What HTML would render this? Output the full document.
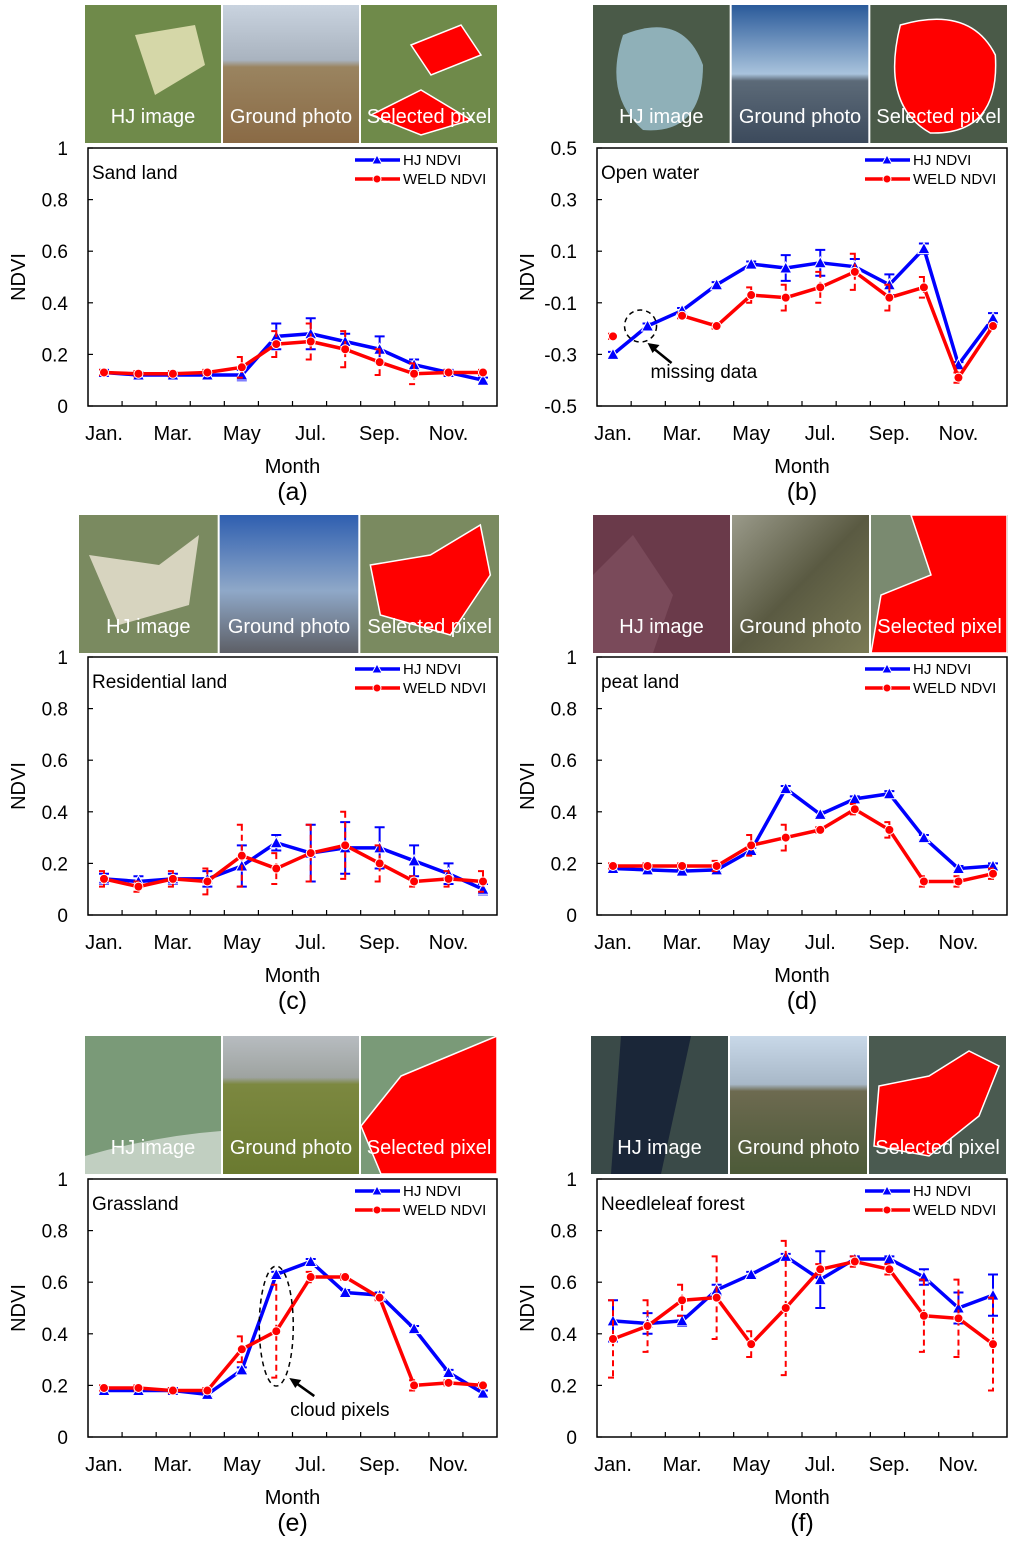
<!DOCTYPE html>
<html><head><meta charset="utf-8"><style>
html,body{margin:0;padding:0;background:#fff}
svg{display:block;font-family:"Liberation Sans",sans-serif}
.lab{font-family:"Liberation Sans",sans-serif}
</style></head><body>
<svg id="fig" width="1024" height="1545" viewBox="0 0 1024 1545" xmlns="http://www.w3.org/2000/svg">
<defs>
<linearGradient id="gSky" x1="0" y1="0" x2="0" y2="1"><stop offset="0" stop-color="#c9d3df"/><stop offset="0.4" stop-color="#a9b3bf"/><stop offset="0.45" stop-color="#9a8460"/><stop offset="1" stop-color="#8a6a45"/></linearGradient>
<linearGradient id="gSea" x1="0" y1="0" x2="0" y2="1"><stop offset="0" stop-color="#2a5a9a"/><stop offset="0.5" stop-color="#a9c3dc"/><stop offset="0.55" stop-color="#5c6a78"/><stop offset="1" stop-color="#3c4a5c"/></linearGradient>
<linearGradient id="gCity" x1="0" y1="0" x2="0" y2="1"><stop offset="0" stop-color="#2f5fb0"/><stop offset="0.55" stop-color="#8fa8c8"/><stop offset="1" stop-color="#5d5f66"/></linearGradient>
<linearGradient id="gPeat" x1="0" y1="0" x2="1" y2="1"><stop offset="0" stop-color="#9a9a8a"/><stop offset="0.5" stop-color="#5a5a42"/><stop offset="1" stop-color="#7a7a55"/></linearGradient>
<linearGradient id="gGrass" x1="0" y1="0" x2="0" y2="1"><stop offset="0" stop-color="#b7bcc0"/><stop offset="0.3" stop-color="#9ea3a0"/><stop offset="0.35" stop-color="#7c8840"/><stop offset="1" stop-color="#6a7a30"/></linearGradient>
<linearGradient id="gMount" x1="0" y1="0" x2="0" y2="1"><stop offset="0" stop-color="#c8d8e8"/><stop offset="0.35" stop-color="#a8b8c8"/><stop offset="0.4" stop-color="#6d6a50"/><stop offset="1" stop-color="#4c5a38"/></linearGradient>
</defs>
<g id="photos"></g>
<g id="charts"></g>
</svg>
<script>
// ---------- data ----------
const months = ["Jan.","Feb.","Mar.","Apr.","May","Jun.","Jul.","Aug.","Sep.","Oct.","Nov.","Dec."];
const tickMonthLabels = ["Jan.","Mar.","May","Jul.","Sep.","Nov."];
const ticks01 = [0,0.2,0.4,0.6,0.8,1];
const ticksWater = [-0.5,-0.3,-0.1,0.1,0.3,0.5];

const sandHJ   = [0.13,0.12,0.12,0.12,0.12,0.27,0.28,0.25,0.22,0.16,0.13,0.10];
const sandHJe  = [0.01,0.01,0.01,0.01,0.02,0.05,0.06,0.03,0.05,0.02,0.01,0.01];
const sandWE   = [0.13,0.125,0.125,0.13,0.15,0.24,0.25,0.22,0.17,0.125,0.13,0.13];
const sandWEe  = [0.01,0.01,0.01,0.01,0.04,0.05,0.07,0.07,0.05,0.04,0.01,0.01];

const waterHJ  = [-0.30,-0.19,-0.13,-0.03,0.05,0.035,0.055,0.04,-0.03,0.11,-0.34,-0.16];
const waterHJe = [0.01,0.01,0.01,0.01,0.01,0.05,0.05,0.03,0.04,0.02,0.01,0.02];
const waterWE  = [-0.23,null,-0.15,-0.19,-0.07,-0.08,-0.04,0.02,-0.08,-0.04,-0.39,-0.19];
const waterWEe = [0.01,0,0.01,0.01,0.03,0.05,0.06,0.07,0.05,0.04,0.02,0.01];

const resHJ    = [0.14,0.13,0.14,0.14,0.19,0.28,0.24,0.26,0.26,0.21,0.16,0.10];
const resHJe   = [0.02,0.02,0.02,0.03,0.08,0.03,0.11,0.10,0.08,0.06,0.04,0.02];
const resWE    = [0.14,0.11,0.14,0.13,0.23,0.18,0.24,0.27,0.20,0.13,0.14,0.13];
const resWEe   = [0.03,0.02,0.03,0.05,0.12,0.06,0.11,0.13,0.07,0.02,0.03,0.04];

const peatHJ   = [0.18,0.175,0.17,0.175,0.25,0.49,0.39,0.45,0.47,0.30,0.18,0.19];
const peatHJe  = [0.01,0.01,0.01,0.01,0.01,0.01,0.01,0.01,0.01,0.01,0.01,0.01];
const peatWE   = [0.19,0.19,0.19,0.19,0.27,0.30,0.33,0.41,0.33,0.13,0.13,0.16];
const peatWEe  = [0.01,0.01,0.01,0.02,0.04,0.05,0.01,0.02,0.03,0.02,0.02,0.02];

const grassHJ  = [0.18,0.18,0.18,0.165,0.26,0.63,0.68,0.56,0.55,0.42,0.25,0.17];
const grassHJe = [0.01,0.01,0.01,0.01,0.01,0.01,0.01,0.01,0.01,0.01,0.01,0.01];
const grassWE  = [0.19,0.19,0.18,0.18,0.34,0.41,0.62,0.62,0.54,0.20,0.21,0.20];
const grassWEe = [0.01,0.01,0.01,0.01,0.05,0.18,0.02,0.01,0.01,0.02,0.01,0.01];

const forHJ    = [0.45,0.44,0.45,0.57,0.63,0.70,0.61,0.69,0.69,0.62,0.50,0.55];
const forHJe   = [0.08,0.04,0.02,0.02,0.01,0.01,0.11,0.01,0.01,0.03,0.06,0.08];
const forWE    = [0.38,0.43,0.53,0.54,0.36,0.50,0.65,0.68,0.65,0.47,0.46,0.36];
const forWEe   = [0.15,0.10,0.06,0.16,0.05,0.26,0.02,0.02,0.02,0.14,0.15,0.18];

// ---------- helpers ----------
const NS = "http://www.w3.org/2000/svg";
function mk(tag, attrs, parent, text){
  const e = document.createElementNS(NS, tag);
  for (const k in attrs) e.setAttribute(k, attrs[k]);
  if (text !== undefined) e.textContent = text;
  parent.appendChild(e);
  return e;
}
const charts = document.getElementById('charts');
const photos = document.getElementById('photos');

function drawPhotos(id, x, y, w, h, kind){
  const g = mk('g', {}, photos);
  
  
  const iw = (w - 4) / 3;
  const bgs = {
    sand:["#6f8a4a","url(#gSky)","#6f8a4a"],
    water:["#4a5a48","url(#gSea)","#4a5a48"],
    res:["#7a8a60","url(#gCity)","#7a8a60"],
    peat:["#6a3a4a","url(#gPeat)","#7a8a70"],
    grass:["#7a9a78","url(#gGrass)","#7a9a78"],
    forest:["#3a4a48","url(#gMount)","#4a5a50"]
  }[kind];
  const names = ["HJ image","Ground photo","Selected pixel"];
  for (let k=0;k<3;k++){
    const ix = x + k*(iw+2);
    const r = mk('rect', {x:ix, y:y, width:iw, height:h, fill:bgs[k]}, g);
    
    
    if (k===0){
      if (kind==='sand') mk('path',{d:`M${ix+50} ${y+30} L${ix+110} ${y+20} L${ix+120} ${y+60} L${ix+70} ${y+90} Z`,fill:"#e8e4b8",opacity:0.85},g);
      if (kind==='water') mk('path',{d:`M${ix+30} ${y+30} Q${ix+90} ${y+5} ${ix+110} ${y+60} Q${ix+110} ${y+130} ${ix+50} ${y+125} Q${ix+10} ${y+90} ${ix+30} ${y+30}Z`,fill:"#8fb0b8"},g);
      if (kind==='res') mk('path',{d:`M${ix+10} ${y+40} L${ix+80} ${y+50} L${ix+120} ${y+20} L${ix+110} ${y+90} L${ix+40} ${y+110} Z`,fill:"#e8e0d0",opacity:0.85},g);
      if (kind==='peat') mk('path',{d:`M${ix} ${y+60} L${ix+40} ${y+20} L${ix+80} ${y+80} L${ix+60} ${y+138} L${ix} ${y+138}Z`,fill:"#7a4a5a"},g);
      if (kind==='grass') mk('path',{d:`M${ix} ${y+120} Q${ix+70} ${y+100} ${ix+136} ${y+95} L${ix+136} ${y+138} L${ix} ${y+138}Z`,fill:"#dfe6e0",opacity:0.7},g);
      if (kind==='forest') mk('path',{d:`M${ix+30} ${y} L${ix+100} ${y} L${ix+70} ${y+138} L${ix+20} ${y+138}Z`,fill:"#1a2638"},g);
    }
    if (k===2){
      const red = {
        sand:`M${ix+50} ${y+40} L${ix+100} ${y+20} L${ix+120} ${y+50} L${ix+70} ${y+70}Z M${ix+10} ${y+110} L${ix+60} ${y+85} L${ix+110} ${y+115} L${ix+60} ${y+130}Z`,
        water:`M${ix+30} ${y+20} Q${ix+100} ${y} ${ix+125} ${y+50} Q${ix+130} ${y+130} ${ix+60} ${y+128} Q${ix+10} ${y+100} ${ix+30} ${y+20}Z`,
        res:`M${ix+10} ${y+50} L${ix+70} ${y+40} L${ix+120} ${y+10} L${ix+130} ${y+60} L${ix+90} ${y+120} L${ix+20} ${y+100}Z`,
        peat:`M${ix+40} ${y} L${ix+136} ${y} L${ix+136} ${y+138} L${ix} ${y+138} L${ix+10} ${y+80} L${ix+60} ${y+60}Z`,
        grass:`M${ix+40} ${y+40} L${ix+136} ${y} L${ix+136} ${y+138} L${ix+20} ${y+138} L${ix} ${y+90}Z`,
        forest:`M${ix+10} ${y+50} L${ix+60} ${y+40} L${ix+100} ${y+15} L${ix+130} ${y+30} L${ix+110} ${y+80} L${ix+60} ${y+120} L${ix+5} ${y+110}Z`
      }[kind];
      mk('path',{d:red, fill:"#ff0000", stroke:"#ffffff", "stroke-width":1.5},g);
    }
    const t = mk('text',{x:ix+iw/2, y:y+h-20, "text-anchor":"middle", "font-size":20, fill:"#ffffff", class:"lab"}, g, names[k]);
    
    
  }
  return g;
}

function drawChart(opt){
  const {id, x0, x1, top, ymin, ymax, yticks, title, hj, hje, we, wee, letter} = opt;
  const h = 258, bottom = top + h;
  const g = mk('g', {}, charts);
  
  
  const xs = i => x0 + 16 + i * (x1 - x0 - 30) / 11;
  const ys = v => bottom - (v - ymin) / (ymax - ymin) * h;
  const frame = mk('rect',{x:x0, y:top, width:x1-x0, height:h, fill:"none", stroke:"#000", "stroke-width":1.5}, g);
  
  
  yticks.forEach(v=>{
    const y = ys(v);
    mk('line',{x1:x0, x2:x0+5, y1:y, y2:y, stroke:"#000", "stroke-width":1.2}, g);
    const t = mk('text',{x:x0-20, y:y+7, "text-anchor":"end", "font-size":19, class:"lab"}, g, String(v));
    
    
  });
  for (let k=1;k<12;k++){
    const x = x0 + k*(x1-x0)/12;
    mk('line',{x1:x, x2:x, y1:bottom, y2:bottom-5, stroke:"#000", "stroke-width":1.2}, g);
  }
  tickMonthLabels.forEach((m,j)=>{
    const t = mk('text',{x:xs(j*2), y:bottom+34, "text-anchor":"middle", "font-size":20, class:"lab"}, g, m);
    
    
  });
  const xt = mk('text',{x:(x0+x1)/2, y:bottom+67, "text-anchor":"middle", "font-size":20, class:"lab"}, g, "Month");
  
  
  const yt = mk('text',{x:0, y:0, "text-anchor":"middle", "font-size":20, class:"lab", transform:`translate(${x0-63},${top+h/2}) rotate(-90)`}, g, "NDVI");
  
  
  const lt = mk('text',{x:(x0+x1)/2, y:bottom+94, "text-anchor":"middle", "font-size":25, class:"lab"}, g, "(" + letter + ")");
  
  
  const tt = mk('text',{x:x0+4, y:top+31, "font-size":19, class:"lab"}, g, title);
  
  

  function series(vals, errs, color, dashed, marker, name){
    const sg = mk('g',{}, g);
    
    
    vals.forEach((v,i)=>{
      if (v===null || !errs[i]) return;
      const x = xs(i), ya = ys(v+errs[i]), yb = ys(v-errs[i]);
      const eb = mk('path',{d:`M${x} ${ya} L${x} ${yb} M${x-5} ${ya} L${x+5} ${ya} M${x-5} ${yb} L${x+5} ${yb}`, stroke:color, "stroke-width":2, fill:"none", "stroke-dasharray": dashed ? "6 4" : "none"}, sg);
      
      
    });
    let d = "", pen = false;
    vals.forEach((v,i)=>{
      if (v===null){ pen=false; return; }
      d += (pen ? "L" : "M") + xs(i) + " " + ys(v) + " ";
      pen = true;
    });
    const ln = mk('path',{d:d, stroke:color, "stroke-width":3.5, fill:"none", "stroke-linejoin":"round"}, sg);
    
    
    vals.forEach((v,i)=>{
      if (v===null) return;
      const x = xs(i), y = ys(v);
      let m;
      if (marker==='tri') m = mk('path',{d:`M${x} ${y-6} L${x+6} ${y+5} L${x-6} ${y+5}Z`, fill:color, stroke:"#fff", "stroke-width":1}, sg);
      else m = mk('circle',{cx:x, cy:y, r:4.5, fill:color, stroke:"#fff", "stroke-width":1}, sg);
      
      
    });
  }
  series(hj, hje, "#0000ff", false, 'tri', 'hj');
  series(we, wee, "#ff0000", true, 'dot', 'weld');

  const lg = mk('g',{}, g);
  
  
  const lx = x1 - 142;
  [["HJ NDVI","#0000ff",'tri',top+12],["WELD NDVI","#ff0000",'dot',top+31]].forEach(([lab,c,mkr,ly])=>{
    const e = mk('g',{}, lg);
    
    
    mk('line',{x1:lx, x2:lx+45, y1:ly, y2:ly, stroke:c, "stroke-width":3.5}, e);
    if (mkr==='tri') mk('path',{d:`M${lx+22} ${ly-5} L${lx+27} ${ly+4} L${lx+17} ${ly+4}Z`, fill:c, stroke:"#fff", "stroke-width":1}, e);
    else mk('circle',{cx:lx+22, cy:ly, r:4, fill:c, stroke:"#fff", "stroke-width":1}, e);
    mk('text',{x:lx+48, y:ly+5, "font-size":15}, e, lab);
  });
  return {g, xs, ys};
}

drawPhotos('sand', 85, 5, 412, 138, 'sand');
drawPhotos('water', 593, 5, 414, 138, 'water');
drawPhotos('residential', 79, 515, 420, 138, 'res');
drawPhotos('peat', 593, 515, 415, 138, 'peat');
drawPhotos('grass', 85, 1036, 412, 138, 'grass');
drawPhotos('forest', 591, 1036, 415, 138, 'forest');

drawChart({id:'sand', x0:88, x1:497, top:148, ymin:0, ymax:1, yticks:ticks01, title:"Sand land", hj:sandHJ, hje:sandHJe, we:sandWE, wee:sandWEe, letter:'a'});
const cw = drawChart({id:'water', x0:597, x1:1007, top:148, ymin:-0.5, ymax:0.5, yticks:ticksWater, title:"Open water", hj:waterHJ, hje:waterHJe, we:waterWE, wee:waterWEe, letter:'b'});
drawChart({id:'residential', x0:88, x1:497, top:657, ymin:0, ymax:1, yticks:ticks01, title:"Residential land", hj:resHJ, hje:resHJe, we:resWE, wee:resWEe, letter:'c'});
drawChart({id:'peat', x0:597, x1:1007, top:657, ymin:0, ymax:1, yticks:ticks01, title:"peat land", hj:peatHJ, hje:peatHJe, we:peatWE, wee:peatWEe, letter:'d'});
const cg = drawChart({id:'grass', x0:88, x1:497, top:1179, ymin:0, ymax:1, yticks:ticks01, title:"Grassland", hj:grassHJ, hje:grassHJe, we:grassWE, wee:grassWEe, letter:'e'});
drawChart({id:'forest', x0:597, x1:1007, top:1179, ymin:0, ymax:1, yticks:ticks01, title:"Needleleaf forest", hj:forHJ, hje:forHJe, we:forWE, wee:forWEe, letter:'f'});

(function(){
  const a = mk('g',{}, charts);
  
  
  const x = cw.xs(1), y = cw.ys(waterHJ[1]);
  mk('circle',{cx:x-7, cy:y, r:16, fill:"none", stroke:"#000", "stroke-width":1.5, "stroke-dasharray":"5 4"}, a);
  mk('path',{d:`M${x+24} ${y+37} L${x+3} ${y+20}`, stroke:"#000", "stroke-width":2.5}, a);
  mk('path',{d:`M${x} ${y+17} L${x+12} ${y+19} L${x+5} ${y+27}Z`, fill:"#000"}, a);
  mk('text',{x:x+3, y:y+52, "font-size":19, class:"lab"}, a, "missing data");

  const b = mk('g',{}, charts);
  
  
  const gx = cg.xs(5), gy = cg.ys(0.43);
  mk('ellipse',{cx:gx, cy:gy, rx:17, ry:60, fill:"none", stroke:"#000", "stroke-width":1.5, "stroke-dasharray":"5 4"}, b);
  mk('path',{d:`M${gx+38} ${gy+70} L${gx+17} ${gy+55}`, stroke:"#000", "stroke-width":2.5}, b);
  mk('path',{d:`M${gx+13} ${gy+52} L${gx+25} ${gy+54} L${gx+19} ${gy+62}Z`, fill:"#000"}, b);
  mk('text',{x:gx+14, y:gy+90, "font-size":19, class:"lab"}, b, "cloud pixels");
})();
</script>
</body></html>
